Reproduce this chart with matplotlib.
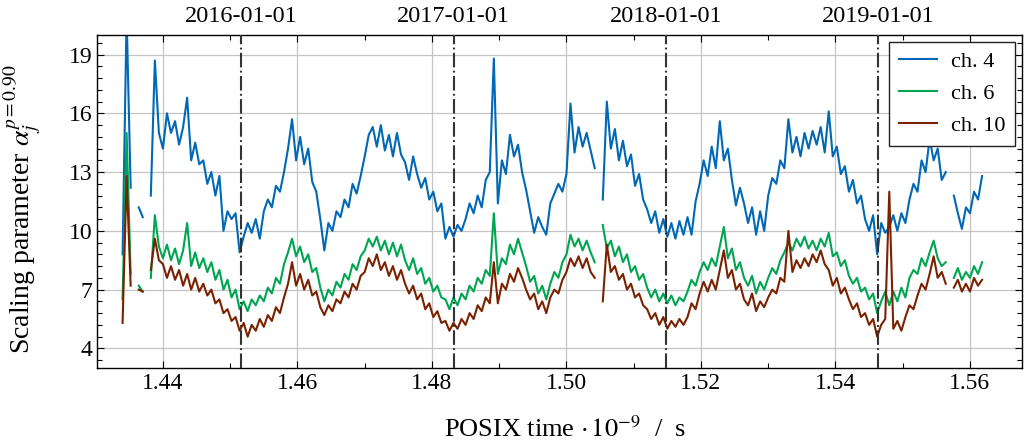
import numpy as np
import matplotlib
matplotlib.use("Agg")
import matplotlib.pyplot as plt
from matplotlib.ticker import MultipleLocator, FormatStrFormatter

nan = float("nan")

# sampling grid of the scaling parameter (POSIX time * 1e-9)
t_start = 1.4340
t_step = 0.0006

ch4 = [
    8.8, 21.0, 12.2, nan, 11.2, 10.7, nan, 11.8, 18.7, 15.0,
    14.2, 16.0, 15.0, 15.6, 14.4, 15.3, 16.8, 13.6, 14.5, 13.4,
    13.6, 12.4, 13.0, 11.8, 12.8, 10.0, 11.0, 10.6, 10.9, 8.9,
    9.7, 10.4, 9.9, 10.6, 9.6, 11.0, 11.6, 11.2, 12.3, 12.0,
    13.0, 14.2, 15.7, 13.6, 14.8, 13.4, 14.2, 12.5, 12.0, 10.6,
    9.0, 10.4, 10.0, 11.0, 10.7, 11.6, 11.2, 12.4, 11.9, 12.8,
    13.8, 14.9, 15.3, 14.3, 15.4, 14.1, 14.9, 13.8, 15.0, 13.9,
    13.5, 12.6, 13.8, 12.9, 12.2, 12.7, 11.6, 12.0, 11.0, 11.4,
    9.6, 10.2, 9.7, 10.3, 10.0, 10.6, 11.4, 10.9, 11.8, 11.2,
    12.6, 13.0, 18.8, 11.4, 13.6, 12.9, 14.9, 13.8, 14.4, 13.0,
    12.1, 11.0, 9.9, 10.7, 10.2, 9.8, 11.4, 11.9, 12.4, 12.0,
    12.9, 16.5, 14.0, 15.3, 14.3, 15.0, 14.1, 13.2, nan, 11.6,
    16.6, 14.2, 15.2, 13.6, 14.6, 13.3, 13.9, 12.3, 12.9, 11.6,
    11.1, 10.4, 11.0, 9.9, 10.6, 9.7, 10.4, 9.6, 10.5, 9.8,
    10.7, 9.8, 11.5, 12.4, 13.6, 12.8, 14.3, 13.2, 15.6, 13.6,
    14.2, 12.6, 11.3, 12.2, 11.4, 10.4, 11.2, 9.8, 11.0, 10.0,
    11.8, 12.7, 12.4, 13.6, 13.2, 15.7, 14.0, 14.8, 13.8, 15.0,
    14.2, 15.1, 14.4, 15.3, 14.0, 16.1, 13.8, 14.3, 12.9, 13.3,
    12.0, 12.6, 11.4, 11.8, 10.6, 10.0, 10.8, 8.8, 10.4, 9.9,
    10.2, 10.8, 10.0, 10.9, 10.4, 11.6, 12.4, 12.0, 13.6, 13.0,
    14.7, 13.6, 14.2, 12.6, 13.0, nan, 11.8, 10.9, 10.1, 11.2,
    10.9, 12.0, 11.6, 12.8,
]

ch6 = [
    6.5, 15.0, 7.8, nan, 7.2, 6.9, nan, 7.6, 10.8, 9.2,
    8.6, 9.3, 8.5, 9.1, 8.3, 9.0, 10.4, 8.2, 8.9, 8.1,
    8.6, 7.9, 8.4, 7.5, 8.0, 7.0, 7.5, 6.6, 7.0, 6.0,
    6.4, 5.9, 6.5, 6.2, 6.7, 6.4, 7.1, 6.8, 7.6, 7.3,
    8.3, 8.9, 9.6, 8.7, 9.2, 8.4, 8.8, 7.9, 8.1, 7.1,
    6.4, 7.0, 6.7, 7.4, 7.1, 7.8, 7.5, 8.3, 8.0, 8.7,
    9.0, 9.6, 9.2, 9.7, 9.0, 9.5, 8.8, 9.4, 8.7, 9.3,
    8.5, 8.0, 8.6, 7.8, 8.1, 7.3, 7.6, 6.9, 7.2, 6.6,
    6.5, 6.0, 6.6, 6.2, 6.8, 6.5, 7.2, 6.9, 7.6, 7.3,
    8.0, 7.7, 10.9, 7.8, 8.6, 8.3, 9.3, 8.8, 9.6, 8.9,
    8.2, 7.4, 7.7, 6.8, 7.2, 6.5, 7.3, 7.9, 7.6, 8.4,
    8.8, 9.8, 9.2, 9.6, 9.0, 9.5, 8.9, 8.4, nan, 10.3,
    9.1, 9.5, 8.7, 9.2, 8.4, 8.8, 7.9, 8.2, 7.5, 7.8,
    7.1, 6.6, 7.0, 6.4, 6.8, 6.3, 6.7, 6.2, 6.6, 6.4,
    6.9, 7.5, 7.2, 7.9, 8.4, 8.0, 8.6, 8.2, 9.2, 10.2,
    8.6, 9.1, 8.0, 8.4, 7.6, 7.2, 7.7, 6.8, 7.4, 7.0,
    7.6, 8.1, 7.8, 8.5, 8.9, 9.4, 9.0, 9.6, 9.2, 9.7,
    9.1, 9.5, 9.0, 9.6, 9.2, 9.9, 8.7, 8.9, 8.2, 8.5,
    7.7, 7.3, 7.6, 6.9, 7.1, 6.5, 6.8, 5.8, 6.4, 6.9,
    6.2, 6.9, 6.4, 7.1, 6.6, 7.6, 8.0, 7.8, 8.6, 8.2,
    8.9, 9.5, 8.6, 8.2, 8.4, nan, 7.6, 8.1, 7.5, 7.9,
    7.6, 8.2, 7.8, 8.4,
]

ch10 = [
    5.3, 12.8, 7.2, nan, 7.0, 6.9, nan, 8.0, 9.6, 8.5,
    8.3, 7.6, 8.2, 7.5, 8.0, 7.2, 7.8, 7.0, 7.6, 6.9,
    7.3, 6.7, 7.0, 6.3, 6.5, 5.8, 6.0, 5.4, 5.6, 4.9,
    5.3, 4.6, 5.2, 4.9, 5.5, 5.1, 5.7, 5.4, 6.1, 5.8,
    6.6, 7.3, 8.4, 7.2, 7.8, 7.0, 7.5, 6.7, 6.9, 6.1,
    5.7, 6.2, 5.9, 6.5, 6.3, 6.9, 6.6, 7.3, 7.0, 7.7,
    7.9, 8.6, 8.2, 8.8, 8.0, 8.4, 7.7, 8.2, 7.5, 8.0,
    7.3, 6.8, 7.2, 6.5, 6.8, 6.0, 6.3, 5.6, 5.9, 5.3,
    5.4, 4.9, 5.3, 5.0, 5.5, 5.2, 5.8, 5.5, 6.2, 5.9,
    6.6, 6.3, 8.4, 6.3, 7.3, 7.0, 7.8, 7.4, 8.1, 7.6,
    7.0, 6.5, 6.8, 6.0, 6.4, 5.8, 6.6, 7.0, 6.8, 7.5,
    7.9, 8.6, 8.2, 8.7, 8.1, 8.6, 7.9, 7.6, nan, 6.4,
    9.3, 7.9, 8.2, 7.5, 7.8, 7.0, 7.3, 6.6, 6.8, 6.2,
    6.0, 5.5, 5.8, 5.2, 5.6, 5.0, 5.4, 5.1, 5.5, 5.2,
    5.6, 6.3, 6.0, 6.8, 7.4, 6.9, 7.5, 7.0, 8.0, 9.0,
    7.6, 8.0, 7.0, 7.3, 6.5, 6.2, 6.8, 5.9, 6.4, 6.1,
    6.6, 7.0, 6.8, 7.6, 7.4, 10.0, 7.9, 8.5, 8.1, 8.6,
    8.2, 8.8, 8.4, 9.0, 8.3, 8.0, 7.2, 7.6, 6.8, 7.1,
    6.5, 6.0, 6.3, 5.6, 5.8, 5.2, 5.5, 4.6, 5.2, 5.5,
    12.0, 5.0, 5.4, 4.9, 5.6, 6.2, 6.0, 6.7, 7.3, 7.0,
    7.8, 8.7, 7.6, 7.9, 7.3, nan, 7.1, 7.5, 6.9, 7.3,
    6.9, 7.6, 7.2, 7.5,
]

series_labels = ["ch. 4", "ch. 6", "ch. 10"]
series_colors = ["#0068b5", "#00a551", "#7a2200"]

year_times = [1.4516064, 1.4832288, 1.5147648, 1.5463008]
year_labels = ["2016-01-01", "2017-01-01", "2018-01-01", "2019-01-01"]

x_ticks = [1.44, 1.46, 1.48, 1.50, 1.52, 1.54, 1.56]
y_ticks = [4, 7, 10, 13, 16, 19]

plt.rcParams["font.family"] = ["Liberation Serif", "DejaVu Serif"]
plt.rcParams["mathtext.fontset"] = "stix"

fig = plt.figure(figsize=(10.3, 4.46), dpi=100)
ax = fig.add_axes([0.0942, 0.175, 0.8978, 0.7465])

t = t_start + t_step * np.arange(len(ch4))
for vals, lab, col in zip([ch4, ch6, ch10], series_labels, series_colors):
    ax.plot(t, np.asarray(vals, dtype=float), color=col, lw=1.5, label=lab)

for yt, yl in zip(year_times, year_labels):
    ax.axvline(yt, color="#333333", lw=1.5, ls=(0, (7, 1.6, 0.9, 1.6)), zorder=3)
    ax.text(yt, 1.025, yl, transform=ax.get_xaxis_transform(),
            ha="center", va="bottom", fontsize=17.5)

ax.set_xlim(1.4302, 1.5677)
ax.set_ylim(3, 20)
ax.set_xticks(x_ticks)
ax.xaxis.set_minor_locator(MultipleLocator(0.01))
ax.xaxis.set_major_formatter(FormatStrFormatter("%.2f"))
ax.set_yticks(y_ticks)
ax.yaxis.set_minor_locator(MultipleLocator(0.6, offset=0.4))
ax.tick_params(which="both", direction="in", top=True, right=True, labelsize=17)
ax.tick_params(which="major", length=5, width=0.8)
ax.tick_params(which="minor", length=3.5, width=0.8)
ax.grid(True, which="major", color="#c4c4c4", lw=0.9)
ax.set_axisbelow(True)
for sp in ax.spines.values():
    sp.set_linewidth(1.0)

ax.set_xlabel(r"POSIX time $\cdot\,10^{-9}$  /  s", fontsize=19)
ax.xaxis.set_label_coords(0.506, -0.145)
ax.set_ylabel(r"Scaling parameter $\alpha_j^{p=0.90}$", fontsize=20)
ax.yaxis.set_label_coords(-0.058, 0.478)

leg = ax.legend(loc="upper right", fontsize=16, handlelength=1.7, fancybox=False,
                framealpha=1, edgecolor="#222222", borderaxespad=0.3,
                labelspacing=0.5, borderpad=0.45, handletextpad=0.6)
leg.get_frame().set_linewidth(1.0)

fig.savefig("out.png", dpi=100)
